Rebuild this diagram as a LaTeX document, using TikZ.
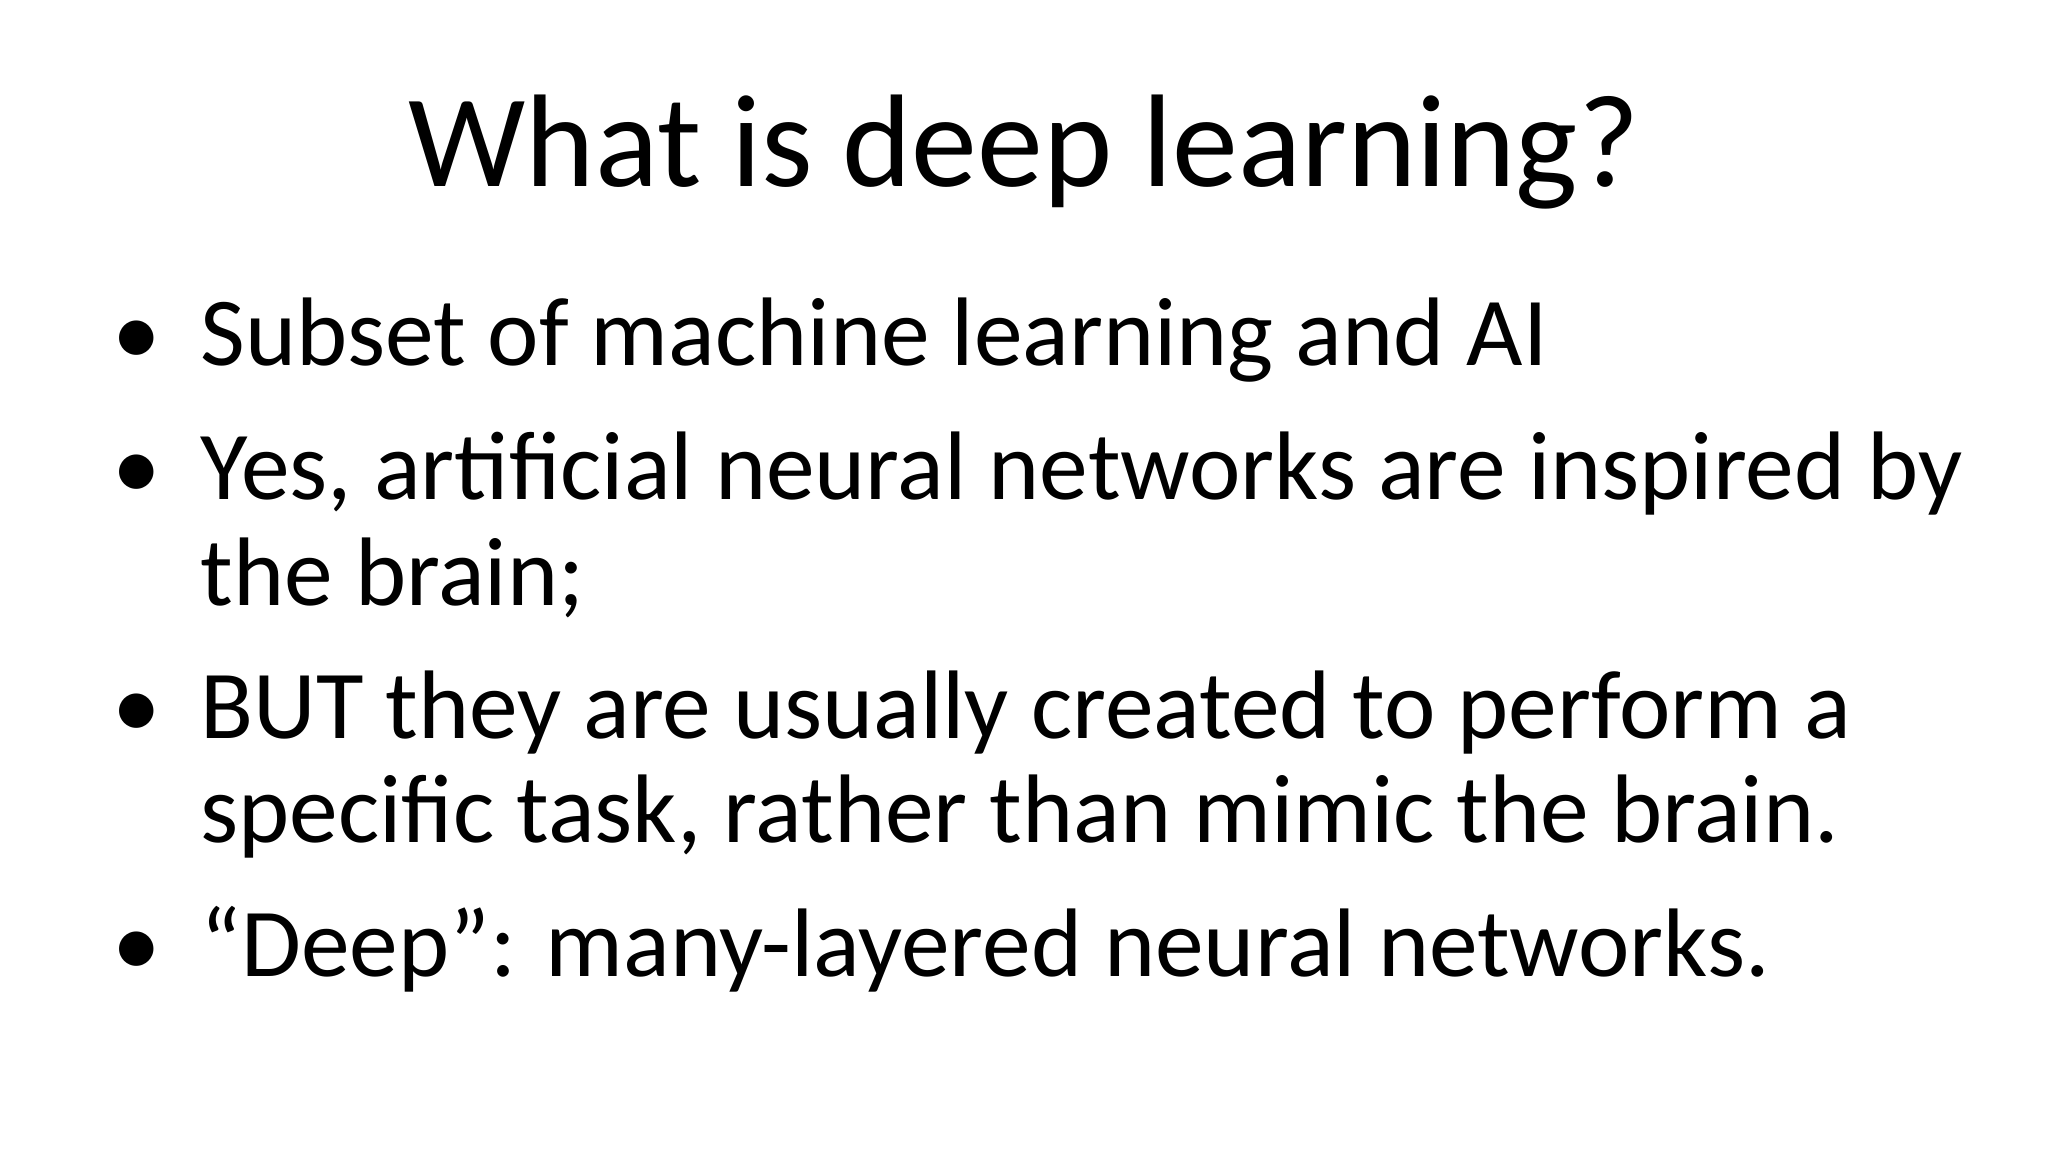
\documentclass[tikz,border=0pt]{standalone}
\usepackage{fontspec}
\setmainfont{Carlito}
\begin{document}
\begin{tikzpicture}[x=0.01cm,y=-0.01cm,
  title/.style={anchor=base,inner sep=0pt,font=\fontsize{37.5}{40}\selectfont},
  txt/.style={anchor=base west,inner sep=0pt,font=\fontsize{27.7}{30}\selectfont},
  bul/.style={anchor=base,inner sep=0pt,font=\fontsize{27.7}{30}\selectfont}]
\useasboundingbox[fill=white] (0,0) rectangle (2048,1152);
\node[title] (t) at (1024,187) {What is deep learning?};
\node[bul] (b1) at (137,366) {•};
\node[txt] (l1) at (200,366) {Subset of machine learning and AI};
\node[bul] (b2) at (137,500) {•};
\node[txt] (l2) at (200,500) {Yes, artificial neural networks are inspired by};
\node[txt] (l3) at (200,605) {the brain;};
\node[bul] (b3) at (137,738) {•};
\node[txt] (l4) at (200,738) {BUT they are usually created to perform a};
\node[txt] (l5) at (200,842) {specific task, rather than mimic the brain.};
\node[bul] (b4) at (137,976) {•};
\node[txt] (l6) at (200,976) {“Deep”: many-layered neural networks.};
\end{tikzpicture}
\end{document}
